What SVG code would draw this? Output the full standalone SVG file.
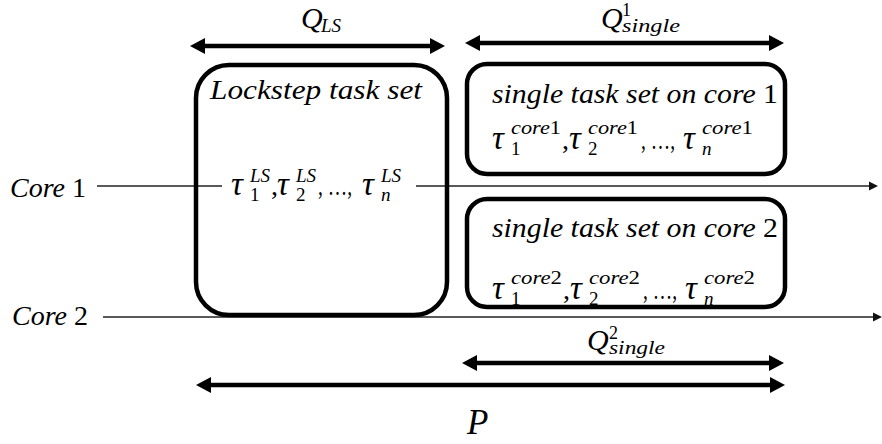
<svg xmlns="http://www.w3.org/2000/svg" width="882" height="444" viewBox="0 0 882 444">
  <defs>
    <!-- heavy double-headed dimension arrows -->
    <marker id="dimHead" markerUnits="userSpaceOnUse" markerWidth="20" markerHeight="20" refX="0" refY="0" viewBox="-1 -10 18 20" orient="auto-start-reverse" overflow="visible">
      <path d="M0,-8 L15,0 L0,8 Z" fill="#000"/>
    </marker>
    <!-- thin time-axis arrowhead -->
    <marker id="axisHead" markerUnits="userSpaceOnUse" markerWidth="12" markerHeight="12" refX="0" refY="0" viewBox="-1 -6 12 12" orient="auto" overflow="visible">
      <path d="M0,-4.5 L9,0 L0,4.5 Z" fill="#111"/>
    </marker>
    <style>
      .m { font-family: "Liberation Serif", "Times New Roman", serif; font-style: italic; fill: #000; }
      .big { font-size: 28px; }
      .tau { font-size: 33px; }
      .scr { font-size: 19px; }
      .up { font-style: normal; }
      .box { fill: none; stroke: #000; stroke-width: 4.5; }
      .axis { stroke: #222; stroke-width: 1.4; fill: none; }
      .dim { stroke: #000; stroke-width: 4.5; fill: none; marker-start: url(#dimHead); marker-end: url(#dimHead); }
    </style>
  </defs>

  <rect width="882" height="444" fill="#fff"/>

  <!-- time axes and dimension arrows -->
  <g id="connectors">
    <line class="axis" x1="97" y1="186" x2="222" y2="186"/>
    <line class="axis" x1="416" y1="186" x2="869" y2="186" marker-end="url(#axisHead)"/>
    <line class="axis" x1="103" y1="317" x2="873" y2="317" marker-end="url(#axisHead)"/>
    <line class="dim" x1="205" y1="46" x2="430" y2="46"/>
    <line class="dim" x1="480" y1="43" x2="769" y2="43"/>
    <line class="dim" x1="477" y1="363" x2="769" y2="363"/>
    <line class="dim" x1="211" y1="385" x2="770" y2="385"/>
  </g>

  <!-- core labels -->
  <g id="core1-label">
    <text class="m big" x="10" y="197">Core <tspan class="up">1</tspan></text>
  </g>
  <g id="core2-label">
    <text class="m big" x="12" y="325">Core <tspan class="up">2</tspan></text>
  </g>

  <!-- lockstep task set -->
  <g id="lockstep-set">
    <rect class="box" x="196" y="65" width="251" height="250" rx="33" ry="33"/>
    <text class="m big" x="210" y="99" textLength="212" lengthAdjust="spacingAndGlyphs">Lockstep task set</text>
    <text class="m tau" x="231" y="195">τ</text>
    <text class="m scr up" x="250" y="201">1</text>
    <text class="m scr" x="250" y="182">LS</text>
    <text class="m big up" x="271" y="195">,</text>
    <text class="m tau" x="277" y="195">τ</text>
    <text class="m scr up" x="296" y="201">2</text>
    <text class="m scr" x="296" y="182">LS</text>
    <text class="m big up" x="318" y="195" textLength="34" lengthAdjust="spacingAndGlyphs">, …,</text>
    <text class="m tau" x="362" y="195">τ</text>
    <text class="m scr" x="381" y="201">n</text>
    <text class="m scr" x="381" y="182">LS</text>
  </g>

  <!-- single task set on core 1 -->
  <g id="single-core1">
    <rect class="box" x="467" y="64" width="318" height="110" rx="20" ry="20"/>
    <text class="m big" x="492" y="103" textLength="286" lengthAdjust="spacingAndGlyphs">single task set on core <tspan class="up">1</tspan></text>
    <text class="m tau" x="492" y="149">τ</text>
    <text class="m scr up" x="511" y="155">1</text>
    <text class="m scr" x="511" y="134" textLength="50" lengthAdjust="spacingAndGlyphs">core<tspan class="up">1</tspan></text>
    <text class="m big up" x="562" y="149">,</text>
    <text class="m tau" x="569" y="149">τ</text>
    <text class="m scr up" x="588" y="155">2</text>
    <text class="m scr" x="588" y="134" textLength="50" lengthAdjust="spacingAndGlyphs">core<tspan class="up">1</tspan></text>
    <text class="m big up" x="641" y="149" textLength="34" lengthAdjust="spacingAndGlyphs">, …,</text>
    <text class="m tau" x="683" y="149">τ</text>
    <text class="m scr" x="702" y="155">n</text>
    <text class="m scr" x="702" y="134" textLength="51" lengthAdjust="spacingAndGlyphs">core<tspan class="up">1</tspan></text>
  </g>

  <!-- single task set on core 2 -->
  <g id="single-core2">
    <rect class="box" x="467" y="199" width="318" height="108" rx="20" ry="20"/>
    <text class="m big" x="492" y="237" textLength="286" lengthAdjust="spacingAndGlyphs">single task set on core <tspan class="up">2</tspan></text>
    <text class="m tau" x="492" y="299">τ</text>
    <text class="m scr up" x="511" y="305">1</text>
    <text class="m scr" x="511" y="284" textLength="51" lengthAdjust="spacingAndGlyphs">core<tspan class="up">2</tspan></text>
    <text class="m big up" x="563" y="299">,</text>
    <text class="m tau" x="570" y="299">τ</text>
    <text class="m scr up" x="589" y="305">2</text>
    <text class="m scr" x="589" y="284" textLength="51" lengthAdjust="spacingAndGlyphs">core<tspan class="up">2</tspan></text>
    <text class="m big up" x="643" y="299" textLength="34" lengthAdjust="spacingAndGlyphs">, …,</text>
    <text class="m tau" x="685" y="299">τ</text>
    <text class="m scr" x="704" y="305">n</text>
    <text class="m scr" x="704" y="284" textLength="51" lengthAdjust="spacingAndGlyphs">core<tspan class="up">2</tspan></text>
  </g>

  <!-- dimension labels -->
  <g id="q-ls">
    <text class="m" x="301" y="28" font-size="30">Q</text>
    <text class="m scr" x="321" y="32">LS</text>
  </g>
  <g id="q-single1">
    <text class="m" x="601" y="28" font-size="30">Q</text>
    <text class="m up" x="622" y="16" font-size="18">1</text>
    <text class="m scr" x="622" y="32" textLength="58" lengthAdjust="spacingAndGlyphs">single</text>
  </g>
  <g id="q-single2">
    <text class="m" x="587" y="350" font-size="30">Q</text>
    <text class="m up" x="609" y="339" font-size="18">2</text>
    <text class="m scr" x="609" y="354" textLength="56" lengthAdjust="spacingAndGlyphs">single</text>
  </g>
  <g id="period">
    <text class="m" x="467" y="434" font-size="35">P</text>
  </g>
</svg>
